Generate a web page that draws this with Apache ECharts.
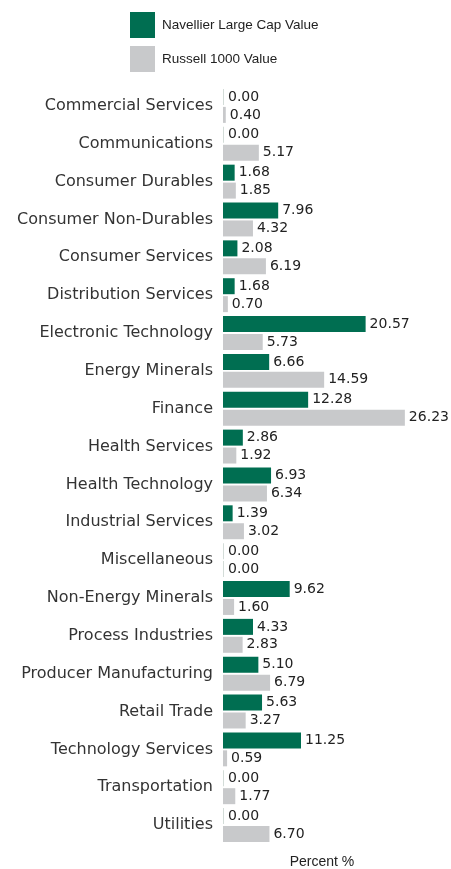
<!DOCTYPE html>
<html>
<head>
<meta charset="utf-8">
<script src="https://cdn.jsdelivr.net/npm/echarts@6/dist/echarts.min.js"></script>
<style>
  html, body { margin: 0; padding: 0; background: #fff; }
  #chart { width: 451px; height: 869px; }
</style>
</head>
<body>
<div id="chart"></div>
<script>
const categories = [
  "Commercial Services", "Communications", "Consumer Durables", "Consumer Non-Durables",
  "Consumer Services", "Distribution Services", "Electronic Technology", "Energy Minerals",
  "Finance", "Health Services", "Health Technology", "Industrial Services",
  "Miscellaneous", "Non-Energy Minerals", "Process Industries", "Producer Manufacturing",
  "Retail Trade", "Technology Services", "Transportation", "Utilities"
];
const navellierValues = [0.00, 0.00, 1.68, 7.96, 2.08, 1.68, 20.57, 6.66, 12.28, 2.86, 6.93, 1.39, 0.00, 9.62, 4.33, 5.10, 5.63, 11.25, 0.00, 0.00];
const russellValues = [0.40, 5.17, 1.85, 4.32, 6.19, 0.70, 5.73, 14.59, 26.23, 1.92, 6.34, 3.02, 0.00, 1.60, 2.83, 6.79, 3.27, 0.59, 1.77, 6.70];

const GREEN = "#006e51";
const GREY = "#c8c9cb";

const chart = echarts.init(document.getElementById("chart"));

const valueLabel = {
  show: true,
  position: "right",
  distance: 4,
  fontFamily: "DejaVu Sans",
  fontSize: 14,
  color: "#222",
  formatter: (p) => p.value.toFixed(2)
};

// zero values still show a hairline at the axis
const barColor = (c) => (p) => (p.value === 0 ? "#d3dcd8" : c);

const option = {
  animation: false,
  legend: {
    orient: "vertical",
    left: 125,
    top: 7,
    itemWidth: 25,
    itemHeight: 26,
    itemGap: 8,
    icon: "rect",
    textStyle: { fontFamily: "Liberation Sans", fontSize: 13.5, color: "#222", padding: [0, 0, 0, 2] },
    data: [
      { name: "Navellier Large Cap Value", itemStyle: { color: GREEN } },
      { name: "Russell 1000 Value", itemStyle: { color: GREY } }
    ]
  },
  grid: { left: 223, top: 87, width: 208, height: 757, containLabel: false, outerBoundsMode: "none" },
  xAxis: {
    type: "value",
    min: 0,
    max: 30,
    name: "Percent %",
    nameLocation: "middle",
    nameGap: 11,
    nameTextStyle: { fontFamily: "Liberation Sans", fontSize: 14, color: "#222", padding: [0, 10, 0, 0] },
    axisLine: { show: false },
    axisTick: { show: false },
    axisLabel: { show: false },
    splitLine: { show: false }
  },
  yAxis: {
    type: "category",
    inverse: true,
    data: categories,
    axisLine: { show: false },
    axisTick: { show: false },
    axisLabel: { fontFamily: "DejaVu Sans", fontSize: 16, color: "#333", margin: 10 }
  },
  series: [
    {
      name: "Navellier Large Cap Value",
      type: "bar",
      data: navellierValues,
      barWidth: 16,
      barGap: "12%",
      barMinHeight: 1,
      itemStyle: { color: barColor(GREEN) },
      label: valueLabel
    },
    {
      name: "Russell 1000 Value",
      type: "bar",
      data: russellValues,
      barWidth: 16,
      barMinHeight: 1,
      itemStyle: { color: barColor(GREY) },
      label: valueLabel
    }
  ]
};

chart.setOption(option);
</script>
</body>
</html>
